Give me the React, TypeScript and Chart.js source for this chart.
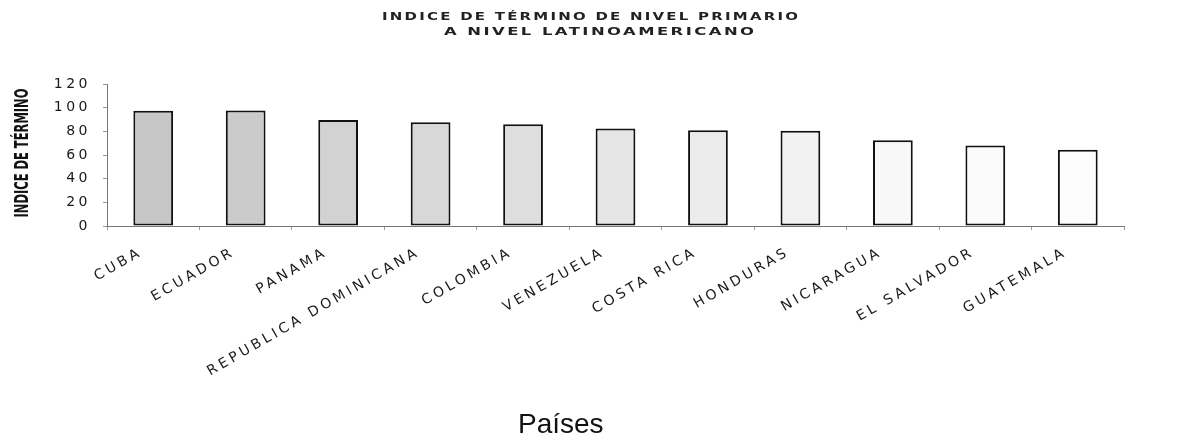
import React, { useEffect, useRef } from 'react';
import { Chart, registerables } from 'chart.js';

Chart.register(...registerables);

// ---- data ----
const categories = [
  'CUBA',
  'ECUADOR',
  'PANAMA',
  'REPUBLICA DOMINICANA',
  'COLOMBIA',
  'VENEZUELA',
  'COSTA RICA',
  'HONDURAS',
  'NICARAGUA',
  'EL SALVADOR',
  'GUATEMALA',
];
const indiceTermino = [97.3, 97.6, 89.6, 87.6, 85.9, 82.5, 81, 80.5, 72.5, 68, 64.5];
const yTicks = [0, 20, 40, 60, 80, 100, 120];
const titleLines = ['INDICE DE TÉRMINO DE NIVEL PRIMARIO', 'A NIVEL LATINOAMERICANO'];
const yAxisTitle = 'INDICE DE TÉRMINO';
const xAxisTitle = 'Países';

// ---- styles ----
const barFills = [
  '#c6c6c6', '#cbcbcb', '#d2d2d2', '#d8d8d8', '#dedede', '#e6e6e6',
  '#ececec', '#f2f2f2', '#f8f8f8', '#fbfbfb', '#fdfdfd',
];

function wideText(ctx: CanvasRenderingContext2D, text: string, cx: number, cy: number, font: string, target: number, spacing: number) {
  ctx.save();
  ctx.font = font;
  (ctx as any).letterSpacing = spacing + 'px';
  const w = ctx.measureText(text).width - spacing;
  ctx.translate(cx, cy);
  ctx.scale(target / w, 1);
  ctx.textAlign = 'left';
  ctx.textBaseline = 'middle';
  ctx.fillStyle = '#222';
  ctx.fillText(text, -w / 2, 0);
  ctx.restore();
}

const textPlugin = {
  id: 'customText',
  beforeLayout(chart: any) {
    (chart.ctx as any).letterSpacing = '3.4px';
  },
  beforeDraw(chart: any) {
    // y tick labels (z = 0, drawn before datasets)
    (chart.ctx as any).letterSpacing = '3.5px';
  },
  afterDatasetsDraw(chart: any) {
    // x tick labels (z = 1, drawn after datasets)
    (chart.ctx as any).letterSpacing = '3.4px';
  },
  afterDraw(chart: any) {
    const ctx: CanvasRenderingContext2D = chart.ctx;
    (ctx as any).letterSpacing = '0px';
    const area = chart.chartArea;
    // Chart title
    wideText(ctx, titleLines[0], 590, 17, 'bold 10px "DejaVu Sans"', 416, 1.5);
    wideText(ctx, titleLines[1], 599, 32, 'bold 10px "DejaVu Sans"', 310, 1.5);
    // Y axis title (tall, condensed)
    ctx.save();
    ctx.font = 'bold 20px "DejaVu Sans Condensed", "DejaVu Sans"';
    (ctx as any).letterSpacing = '0px';
    const w = ctx.measureText(yAxisTitle).width;
    ctx.translate(23, (area.top + area.bottom) / 2 - 2);
    ctx.rotate(-Math.PI / 2);
    ctx.scale(129 / w, 1);
    ctx.textAlign = 'center';
    ctx.textBaseline = 'middle';
    ctx.fillStyle = '#111';
    ctx.fillText(yAxisTitle, 0, 0);
    ctx.restore();
    // X axis title
    ctx.save();
    ctx.font = '28px "Liberation Sans", Arial, sans-serif';
    (ctx as any).letterSpacing = '0px';
    ctx.textAlign = 'left';
    ctx.textBaseline = 'alphabetic';
    ctx.fillStyle = '#111';
    ctx.fillText(xAxisTitle, 518, 433);
    ctx.restore();
  },
};

export default function App() {
  const ref = useRef<HTMLCanvasElement | null>(null);

  useEffect(() => {
    if (!ref.current) return;
    const chart = new Chart(ref.current, {
      type: 'bar',
      data: {
        labels: categories,
        datasets: [
          {
            label: yAxisTitle,
            data: indiceTermino,
            backgroundColor: barFills,
            borderColor: '#111',
            borderWidth: 2,
            borderSkipped: false,
            barPercentage: 0.43,
            categoryPercentage: 1,
          },
        ],
      },
      options: {
        animation: false,
        responsive: false,
        maintainAspectRatio: false,
        layout: { padding: { top: 84, right: 55, left: 0, bottom: 0 } },
        plugins: {
          legend: { display: false },
          title: { display: false },
          tooltip: { enabled: false },
        },
        scales: {
          x: {
            grid: { display: true, drawOnChartArea: false, drawTicks: true, tickLength: 4, color: '#999' },
            border: { display: true, color: '#777', width: 1 },
            ticks: {
              z: 1,
              autoSkip: false,
              minRotation: 30,
              maxRotation: 30,
              padding: 14,
              labelOffset: -12,
              color: '#1a1a1a',
              font: { family: '"DejaVu Sans"', size: 14 },
            },
            afterFit: (scale: any) => {
              scale.height = 212;
            },
          },
          y: {
            min: 0,
            max: 120,
            grid: { display: true, drawOnChartArea: false, drawTicks: true, tickLength: 4, color: '#999' },
            border: { display: true, color: '#777', width: 1 },
            ticks: {
              z: 0,
              padding: 12,
              color: '#1a1a1a',
              font: { family: '"DejaVu Sans"', size: 14 },
            },
            afterBuildTicks: (scale: any) => {
              scale.ticks = yTicks.map((v) => ({ value: v }));
            },
            afterFit: (scale: any) => {
              scale.width = 107;
            },
          },
        },
      },
      plugins: [textPlugin],
    });
    return () => chart.destroy();
  }, []);

  return (
    <div style={{ position: 'absolute', left: 0, top: 0, width: 1179, height: 438, background: '#fff' }}>
      <canvas ref={ref} width={1179} height={438} style={{ display: 'block', width: 1179, height: 438 }} />
    </div>
  );
}
